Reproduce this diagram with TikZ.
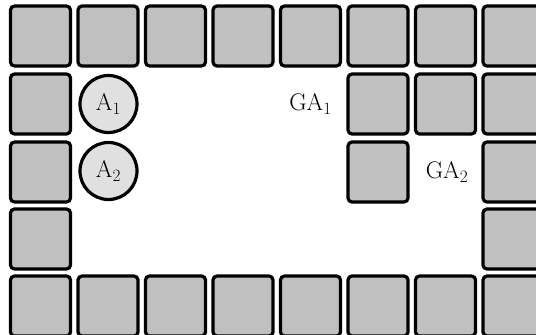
\documentclass[tikz,border=0pt]{standalone}
\usetikzlibrary{positioning}
\definecolor{boxgray}{HTML}{C0C0C0}
\definecolor{agray}{HTML}{E0E0E0}
\begin{document}
\begin{tikzpicture}[x=1pt,y=-1pt,
  wall/.style={draw=black,line width=3.2pt,fill=boxgray,rounded corners=4pt,minimum size=60pt,inner sep=0pt,outer sep=0pt},
  agent/.style={draw=black,line width=3.2pt,fill=agray,circle,minimum size=57pt,inner sep=0pt,font=\fontsize{24}{28}\selectfont},
  goal/.style={inner sep=0pt,font=\fontsize{24}{28}\selectfont}]
\clip (0,0) rectangle (536,335);
\useasboundingbox (0,0) rectangle (536,335);
% row 1 and row 5: all columns
\foreach \c in {1,...,8} {
  \node[wall] (t\c) at ({40.5+67.5*(\c-1)},36) {};
  \node[wall] (b\c) at ({40.5+67.5*(\c-1)},306) {};
}
% row 2
\node[wall] (r2c1) at (40.5,104) {};
\node[wall] (r2c6) at (378,104) {};
\node[wall] (r2c7) at (445.5,104) {};
\node[wall] (r2c8) at (513,104) {};
% row 3
\node[wall] (r3c1) at (40.5,172) {};
\node[wall] (r3c6) at (378,172) {};
\node[wall] (r3c8) at (513,172) {};
% row 4
\node[wall] (r4c1) at (40.5,239) {};
\node[wall] (r4c8) at (513,239) {};
% agents
\node[agent] (A1) at (108.5,104) {A$_1$};
\node[agent] (A2) at (108.5,171) {A$_2$};
% goals
\node[goal] (GA1) at (310.5,104) {GA$_1$};
\node[goal] (GA2) at (447,172) {GA$_2$};
\end{tikzpicture}
\end{document}
